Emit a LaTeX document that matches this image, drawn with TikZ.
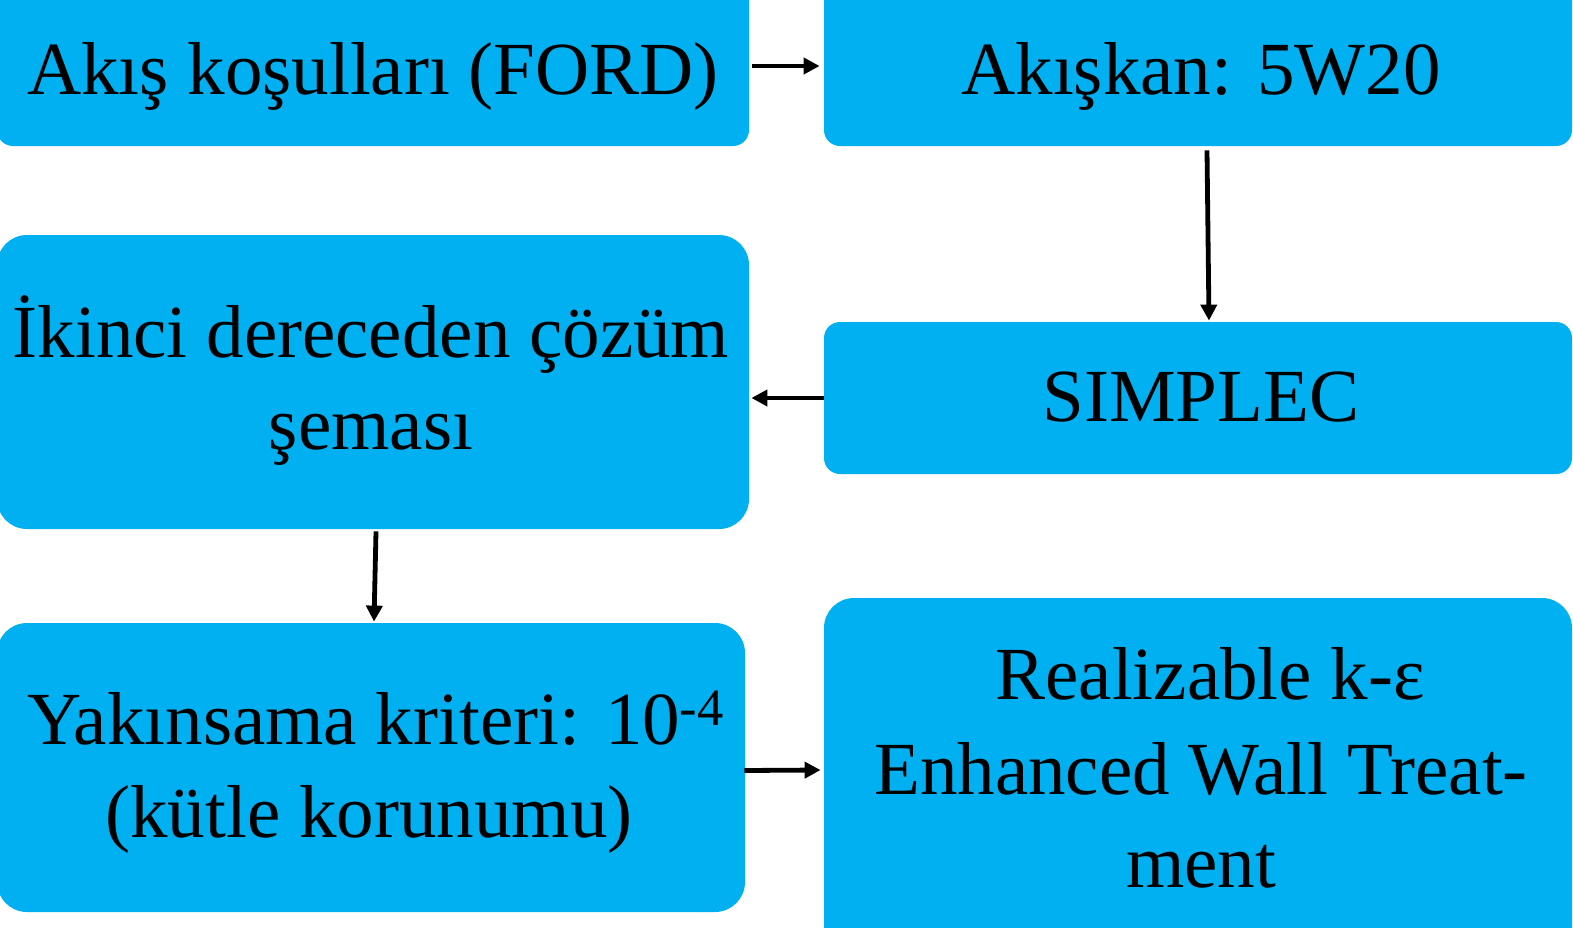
\documentclass[tikz,border=0pt]{standalone}
\usepackage{fontspec}
\setmainfont{Liberation Serif}
\usetikzlibrary{arrows.meta}
\definecolor{boxblue}{RGB}{0,176,240}
\tikzset{
  box/.style={rectangle, fill=boxblue, draw=none, inner sep=0pt},
  lbl/.style={anchor=base, inner sep=0pt, font=\fontsize{37.5}{46}\selectfont},
  arr/.style={line width=2.4pt, -{Triangle[length=8pt,width=8pt]}}
}
\begin{document}
\begin{tikzpicture}[x=0.5pt,y=-0.5pt]
\useasboundingbox (0,0) rectangle (1573,927);
\clip (0,0) rectangle (1573,927);
% boxes
\node[box, rounded corners=8pt, minimum width=376pt, minimum height=85pt] (A) at (373,61) {};
\node[box, rounded corners=8pt, minimum width=374pt, minimum height=85pt] (B) at (1198,61) {};
\node[box, rounded corners=15pt, minimum width=376pt, minimum height=147pt] (C) at (373,382) {};
\node[box, rounded corners=8pt, minimum width=374pt, minimum height=76pt] (D) at (1198,398) {};
\node[box, rounded corners=15pt, minimum width=374pt, minimum height=144.5pt] (E) at (371,767.5) {};
\node[box, rounded corners=15pt, minimum width=374pt, minimum height=181pt] (F) at (1198,779) {};
% texts
\node[lbl] (tA) at (373,94) {Akış koşulları (FORD)};
\node[lbl] (tB) at (1201,94) {Akışkan: 5W20};
\node[lbl] (tC1) at (371,357) {İkinci dereceden çözüm};
\node[lbl] (tC2) at (371,449) {şeması};
\node[lbl] (tD) at (1201,421) {SIMPLEC};
\node[lbl] (tE1) at (376,744) {Yakınsama kriteri: 10\textsuperscript{-4}};
\node[lbl] (tE2) at (369,837) {(kütle korunumu)};
\node[lbl] (tF1) at (1210,699) {Realizable k-ε};
\node[lbl] (tF2) at (1201,794) {Enhanced Wall Treat-};
\node[lbl] (tF3) at (1201,887) {ment};
% connectors
\draw[arr] ([xshift=1.5pt,yshift=-2.5pt]A.east) -- ([xshift=-2pt,yshift=-2.5pt]B.west);
\draw[arr] ([xshift=4.5pt,yshift=-2pt]B.south) -- ([xshift=5.5pt,yshift=0.5pt]D.north);
\draw[arr] (D.west) -- ([xshift=1pt]C.east |- D.west);
\draw[arr] ([xshift=1.5pt,yshift=-1pt]C.south) -- ([xshift=1.5pt,yshift=0.5pt]E.north);
\draw[arr] ([xshift=-0.5pt,yshift=-1.5pt]E.east) -- ([xshift=-1.5pt,yshift=4.5pt]F.west);
\end{tikzpicture}
\end{document}
